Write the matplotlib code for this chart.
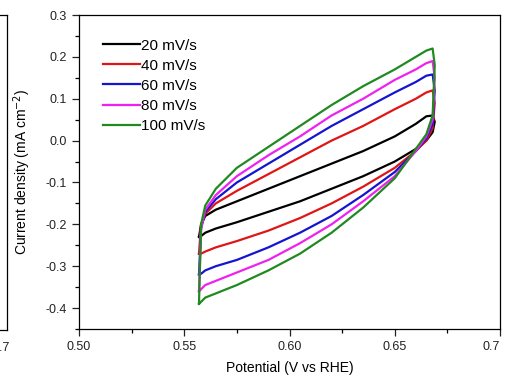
import matplotlib
matplotlib.use("Agg")
import matplotlib.pyplot as plt
from matplotlib.lines import Line2D
from matplotlib.ticker import MultipleLocator, FixedLocator, FixedFormatter

plt.rcParams['font.family'] = ['Liberation Sans', 'DejaVu Sans']
plt.rcParams['axes.unicode_minus'] = False

# ---------------------
# CV data (potential in V vs RHE, current in mA cm-2)
# ---------------------
labels = ["20 mV/s", "40 mV/s", "60 mV/s", "80 mV/s", "100 mV/s"]
colors = ["black", "#e01515", "#1515d0", "#ee22ee", "#208a20"]

x_fwd = [0.557, 0.558, 0.560, 0.565, 0.575, 0.590, 0.605, 0.620, 0.635, 0.650, 0.660, 0.665, 0.668, 0.669]
x_rev = [0.669, 0.668, 0.665, 0.660, 0.650, 0.635, 0.620, 0.605, 0.590, 0.575, 0.565, 0.560, 0.558, 0.557]

y_fwd_20 = [-0.230, -0.200, -0.180, -0.165, -0.145, -0.115, -0.085, -0.055, -0.025, 0.010, 0.040, 0.058, 0.060, 0.045]
y_rev_20 = [0.045, 0.020, 0.000, -0.020, -0.050, -0.085, -0.115, -0.145, -0.170, -0.195, -0.210, -0.220, -0.228, -0.230]

y_fwd_40 = [-0.270, -0.200, -0.175, -0.150, -0.120, -0.080, -0.040, 0.000, 0.035, 0.075, 0.100, 0.115, 0.120, 0.090]
y_rev_40 = [0.090, 0.030, 0.000, -0.025, -0.065, -0.110, -0.150, -0.185, -0.215, -0.240, -0.255, -0.265, -0.270, -0.270]

y_fwd_60 = [-0.320, -0.210, -0.170, -0.140, -0.100, -0.055, -0.010, 0.035, 0.075, 0.115, 0.140, 0.155, 0.158, 0.120]
y_rev_60 = [0.120, 0.040, 0.005, -0.025, -0.075, -0.130, -0.180, -0.220, -0.255, -0.285, -0.300, -0.310, -0.318, -0.320]

y_fwd_80 = [-0.360, -0.210, -0.165, -0.130, -0.085, -0.035, 0.010, 0.060, 0.100, 0.145, 0.170, 0.185, 0.190, 0.150]
y_rev_80 = [0.150, 0.050, 0.010, -0.025, -0.085, -0.145, -0.200, -0.245, -0.285, -0.315, -0.335, -0.345, -0.355, -0.360]

y_fwd_100 = [-0.390, -0.200, -0.155, -0.115, -0.065, -0.015, 0.035, 0.085, 0.130, 0.170, 0.200, 0.215, 0.220, 0.180]
y_rev_100 = [0.180, 0.060, 0.015, -0.020, -0.090, -0.160, -0.220, -0.270, -0.310, -0.345, -0.365, -0.375, -0.385, -0.390]

fwd = [y_fwd_20, y_fwd_40, y_fwd_60, y_fwd_80, y_fwd_100]
rev = [y_rev_20, y_rev_40, y_rev_60, y_rev_80, y_rev_100]

xtick_vals = [0.50, 0.55, 0.60, 0.65, 0.70]
xtick_labels = ["0.50", "0.55", "0.60", "0.65", "0.7"]

# ---------------------
# Plot
# ---------------------
fig = plt.figure(figsize=(5.05, 3.8), dpi=100)
ax = fig.add_axes([79/505, 1-329/380, 421/505, 314/380])

for yf, yr, c, lab in zip(fwd, rev, colors, labels):
    ax.plot(x_fwd + x_rev, yf + yr, color=c, lw=1.6, label=lab)

ax.set_xlim(0.50, 0.70)
ax.set_ylim(-0.45, 0.30)
ax.xaxis.set_major_locator(FixedLocator(xtick_vals))
ax.xaxis.set_major_formatter(FixedFormatter(xtick_labels))
ax.xaxis.set_minor_locator(MultipleLocator(0.025))
ax.yaxis.set_major_locator(MultipleLocator(0.1))
ax.yaxis.set_minor_locator(MultipleLocator(0.05))
ax.yaxis.set_major_formatter(plt.FuncFormatter(lambda v, p: f"{v:.1f}"))
ax.tick_params(which='major', direction='out', length=5, width=0.9, labelsize=9, colors='#222222')
ax.tick_params(which='minor', direction='out', length=3, width=0.9)
for sp in ax.spines.values():
    sp.set_linewidth(0.9)
ax.get_xticklabels()[-1].set_horizontalalignment('right')

ax.set_xlabel("Potential (V vs RHE)", fontsize=10)
ax.set_ylabel("Current density (mA cm$^{-2}$)", fontsize=10)
ax.xaxis.set_label_coords(0.5, -0.103)
ax.yaxis.set_label_coords(-0.109, 0.5)

ax.legend(loc='upper left', bbox_to_anchor=((103-79)/421, 0.925), frameon=False,
          fontsize=11, handlelength=2.4, handletextpad=0.1, labelspacing=0.4,
          borderpad=0, borderaxespad=0)

# remnant of the neighbouring panel on the left edge
fig.add_artist(Line2D([7/505, 7/505], [1-15/380, 1-330/380], color='black', lw=0.9))
fig.add_artist(Line2D([0, 7/505], [1-15/380, 1-15/380], color='black', lw=0.9))
fig.add_artist(Line2D([0, 7/505], [1-330/380, 1-330/380], color='black', lw=0.9))
fig.text(10/505, 1-348/380, "0.7", ha='right', va='center', fontsize=9, color='#222222')

fig.savefig("out.png", dpi=100)
